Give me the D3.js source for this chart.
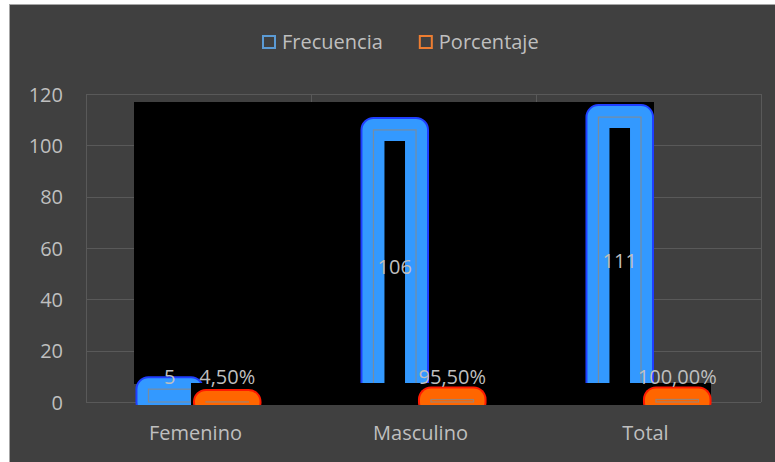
<!DOCTYPE html>
<html>
<head>
<meta charset="utf-8">
<script src="https://cdn.jsdelivr.net/npm/d3@7/dist/d3.min.js"></script>
<style>
  html, body { margin: 0; padding: 0; background: #ffffff; }
  svg { display: block; }
  text { font-family: "Open Sans", "Noto Sans", sans-serif; }
</style>
</head>
<body>
<svg id="chart" width="775" height="462"></svg>
<script>
// ---- data ----
const categories = ["Femenino", "Masculino", "Total"];
const seriesNames = ["Frecuencia", "Porcentaje"];
const frecuencia = [5, 106, 111];
const porcentaje = [0.045, 0.955, 1.0];
const porcentajeLabels = ["4,50%", "95,50%", "100,00%"];
const yTicks = [0, 20, 40, 60, 80, 100, 120];

const W = 775, H = 462;
const svg = d3.select("#chart");
const textColor = "#bfbfbf";

// chart background
svg.append("rect").attr("x", 9.5).attr("y", 4.5).attr("width", W).attr("height", H)
  .attr("fill", "#404040").attr("stroke", "#a6a6a6").attr("stroke-width", 1);

const plot = { left: 86, right: 761, top: 94, bottom: 402 };

const x0 = d3.scaleBand().domain(categories).range([plot.left, plot.right]).padding(0);
const x1 = d3.scaleBand().domain(seriesNames).range([0, x0.bandwidth()])
  .paddingInner(0.26).paddingOuter(1.086);
const y = d3.scaleLinear().domain([0, 120]).range([plot.bottom, plot.top]);

// gridlines
const grid = svg.append("g").attr("stroke", "#595959").attr("stroke-width", 1);
grid.selectAll("line.h").data(yTicks).join("line")
  .attr("x1", plot.left).attr("x2", plot.right)
  .attr("y1", d => Math.round(y(d)) + 0.5).attr("y2", d => Math.round(y(d)) + 0.5);
const vlines = categories.map(c => x0(c)).concat([plot.right]);
grid.selectAll("line.v").data(vlines).join("line")
  .attr("x1", d => Math.round(d) + 0.5).attr("x2", d => Math.round(d) + 0.5)
  .attr("y1", plot.top).attr("y2", plot.bottom);

// y axis labels
const yAxis = d3.axisLeft(y).tickValues(yTicks).tickSize(0).tickPadding(0);
const gy = svg.append("g").attr("transform", "translate(63,0)").call(yAxis);
gy.select(".domain").remove();
gy.selectAll("text").attr("fill", textColor).attr("font-size", 20)
  .attr("font-family", '"Open Sans", sans-serif').attr("dy", "0.35em");

// black picture area
svg.append("rect").attr("x", 134).attr("y", 102).attr("width", 520).attr("height", 282).attr("fill", "#000");

const clip = svg.append("clipPath").attr("id", "barclip");
clip.append("rect").attr("x", 0).attr("y", 0).attr("width", W).attr("height", 405);

const bars = svg.append("g").attr("clip-path", "url(#barclip)");

function drawBars(g, values, name, edge, main) {
  const data = values.map((v, i) => ({ c: categories[i], v }));
  const bx = d => x0(d.c) + x1(name);
  const by = d => y(d.v);
  const bh = d => y(0) - y(d.v);
  const bw = x1.bandwidth();
  g.selectAll(null).data(data).join("rect")
    .attr("x", bx).attr("y", by).attr("width", bw).attr("height", bh)
    .attr("fill", edge).attr("stroke", edge).attr("stroke-width", 26)
    .attr("stroke-linejoin", "round");
  g.selectAll(null).data(data).join("rect")
    .attr("x", bx).attr("y", by).attr("width", bw).attr("height", bh)
    .attr("fill", name === "Frecuencia" ? "#000" : main).attr("stroke", main).attr("stroke-width", 22)
    .attr("stroke-linejoin", "round");
  g.selectAll(null).data(data).join("rect")
    .attr("x", bx).attr("y", by).attr("width", bw).attr("height", bh)
    .attr("fill", "none").attr("stroke", "#8a8a8a").attr("stroke-opacity", 0.8).attr("stroke-width", 1.2);
}

drawBars(bars.append("g"), frecuencia, "Frecuencia", "#1f3fff", "#3399ff");
// black band over bar bottoms
bars.append("rect").attr("x", 191).attr("y", 383).attr("width", 520).attr("height", 22).attr("fill", "#000");
drawBars(bars.append("g"), porcentaje, "Porcentaje", "#ff1a00", "#ff6600");

// data labels
const labelBase = v => Math.min(y(v / 2) + 8, y(0) - 18);
svg.append("g").selectAll("text").data(frecuencia).join("text")
  .attr("x", (d, i) => x0(categories[i]) + x1("Frecuencia") + x1.bandwidth() / 2)
  .attr("y", d => labelBase(d))
  .attr("text-anchor", "middle").attr("font-size", 20).attr("fill", textColor)
  .text(d => d);
svg.append("g").selectAll("text").data(porcentaje).join("text")
  .attr("x", (d, i) => x0(categories[i]) + x1("Porcentaje") + x1.bandwidth() / 2)
  .attr("y", d => labelBase(d))
  .attr("text-anchor", "middle").attr("font-size", 20).attr("fill", textColor)
  .text((d, i) => porcentajeLabels[i]);

// x axis labels
svg.append("g").selectAll("text").data(categories).join("text")
  .attr("x", d => x0(d) + x0.bandwidth() / 2 - 3)
  .attr("y", 440)
  .attr("text-anchor", "middle").attr("font-size", 20).attr("fill", textColor)
  .text(d => d);

// legend
const legendColors = ["#5b9bd5", "#ed7d31"];
const legend = svg.append("g");
let lx = 262;
seriesNames.forEach((n, i) => {
  legend.append("rect").attr("x", lx + 1).attr("y", 36).attr("width", 12).attr("height", 12)
    .attr("fill", "none").attr("stroke", legendColors[i]).attr("stroke-width", 2);
  const t = legend.append("text").attr("x", lx + 20).attr("y", 49)
    .attr("font-size", 20).attr("fill", textColor).text(n);
  lx += 20 + t.node().getComputedTextLength() + 36;
});
</script>
</body>
</html>
